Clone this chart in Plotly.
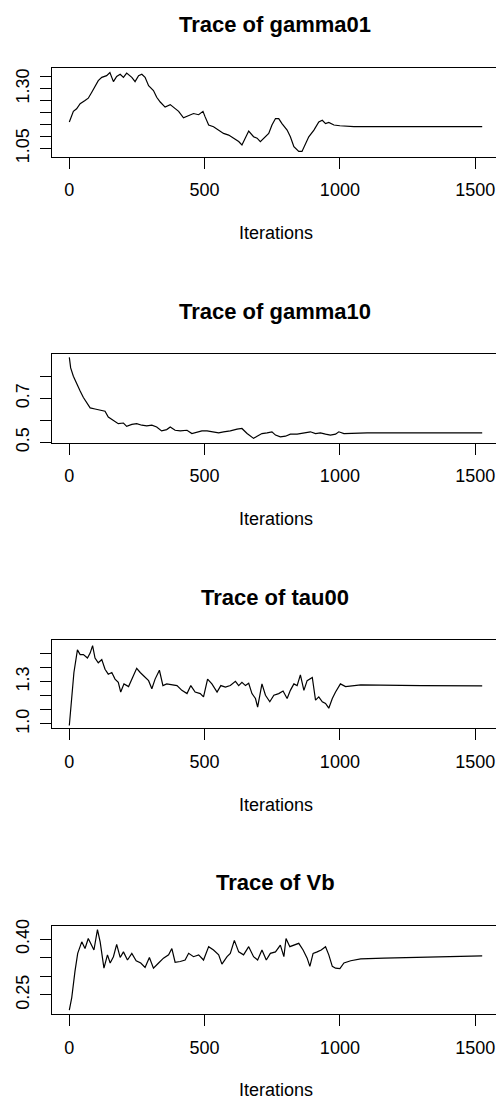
import plotly.graph_objects as go

W, H = 496, 1113

# ---- data ----
iter_gamma01 = [0, 15, 27, 40, 58, 70, 83, 95, 107, 120, 138, 150, 163, 175, 188, 200, 212, 231, 243, 256,
                268, 280, 293, 311, 323, 336, 354, 373, 385, 404, 422, 441, 459, 478, 494, 502, 515, 533, 552, 570,
                589, 607, 626, 638, 651, 663, 681, 694, 706, 718, 737, 749, 762, 774, 786, 805, 817, 830, 848, 860,
                873, 885, 904, 922, 935, 947, 959, 978, 1000, 1052, 1150, 1300, 1450, 1526]
val_gamma01 = [1.161, 1.205, 1.216, 1.237, 1.250, 1.260, 1.285, 1.312, 1.333, 1.347, 1.354, 1.367, 1.329, 1.351,
               1.360, 1.347, 1.365, 1.347, 1.329, 1.354, 1.360, 1.347, 1.312, 1.292, 1.264, 1.244, 1.223, 1.233,
               1.223, 1.205, 1.178, 1.189, 1.196, 1.191, 1.205, 1.182, 1.148, 1.141, 1.127, 1.113, 1.106, 1.093,
               1.079, 1.065, 1.099, 1.123, 1.099, 1.093, 1.079, 1.093, 1.113, 1.148, 1.175, 1.175, 1.154, 1.127,
               1.099, 1.058, 1.038, 1.038, 1.072, 1.099, 1.127, 1.161, 1.168, 1.154, 1.159, 1.148, 1.145, 1.141,
               1.141, 1.141, 1.141, 1.141]

iter_gamma10 = [0, 5, 15, 27, 40, 52, 64, 77, 95, 114, 132, 144, 163, 181, 200, 212, 231, 249, 268, 286,
                305, 323, 341, 360, 373, 391, 410, 435, 453, 472, 490, 509, 533, 552, 570, 595, 620, 638, 657, 669,
                681, 694, 712, 731, 749, 762, 780, 799, 817, 842, 867, 891, 910, 928, 947, 965, 984, 996, 1015, 1101,
                1300, 1526]
val_gamma10 = [0.887, 0.839, 0.801, 0.772, 0.734, 0.704, 0.682, 0.657, 0.652, 0.648, 0.642, 0.615, 0.600, 0.585,
               0.588, 0.573, 0.582, 0.585, 0.578, 0.575, 0.578, 0.570, 0.552, 0.558, 0.570, 0.555, 0.552, 0.555,
               0.540, 0.548, 0.552, 0.552, 0.548, 0.543, 0.548, 0.552, 0.560, 0.563, 0.540, 0.528, 0.518, 0.528,
               0.540, 0.543, 0.548, 0.533, 0.525, 0.528, 0.537, 0.537, 0.543, 0.548, 0.540, 0.543, 0.537, 0.533,
               0.537, 0.548, 0.540, 0.543, 0.543, 0.543]

iter_tau00 = [0, 9, 17, 30, 40, 52, 67, 77, 86, 95, 107, 120, 132, 144, 157, 169, 181, 190, 202, 219,
              231, 249, 262, 277, 293, 305, 317, 333, 346, 360, 379, 398, 416, 435, 449, 465, 484, 496, 511, 527,
              546, 560, 577, 595, 614, 626, 638, 651, 663, 675, 688, 696, 712, 725, 741, 756, 774, 790, 805, 817,
              830, 842, 854, 867, 879, 898, 910, 922, 935, 947, 959, 972, 984, 1002, 1021, 1077, 1300, 1526]
val_tau00 = [0.988, 1.168, 1.365, 1.526, 1.492, 1.492, 1.468, 1.503, 1.556, 1.468, 1.434, 1.457, 1.388, 1.353,
             1.365, 1.318, 1.295, 1.226, 1.284, 1.265, 1.318, 1.395, 1.365, 1.335, 1.307, 1.249, 1.318, 1.381,
             1.272, 1.284, 1.279, 1.272, 1.238, 1.215, 1.272, 1.226, 1.215, 1.192, 1.318, 1.284, 1.226, 1.272,
             1.261, 1.272, 1.302, 1.272, 1.295, 1.272, 1.288, 1.215, 1.180, 1.118, 1.284, 1.203, 1.157, 1.203,
             1.215, 1.233, 1.180, 1.238, 1.284, 1.272, 1.348, 1.238, 1.307, 1.330, 1.168, 1.192, 1.157, 1.145,
             1.111, 1.180, 1.226, 1.284, 1.265, 1.277, 1.272, 1.270]

iter_Vb = [0, 9, 21, 31, 46, 58, 70, 83, 91, 104, 114, 128, 141, 151, 163, 175, 188, 200, 215, 231,
           247, 264, 280, 296, 311, 330, 348, 367, 379, 391, 410, 428, 441, 459, 478, 496, 515, 533, 552, 564,
           583, 595, 610, 626, 644, 663, 681, 696, 712, 728, 743, 762, 780, 793, 801, 815, 830, 848, 864, 879,
           889, 901, 916, 931, 947, 959, 972, 984, 1000, 1015, 1040, 1077, 1163, 1286, 1526]
val_Vb = [0.209, 0.243, 0.314, 0.362, 0.393, 0.375, 0.402, 0.384, 0.371, 0.426, 0.393, 0.322, 0.358, 0.336,
          0.353, 0.386, 0.351, 0.366, 0.344, 0.362, 0.342, 0.336, 0.324, 0.351, 0.322, 0.336, 0.349, 0.358,
          0.375, 0.338, 0.340, 0.344, 0.362, 0.353, 0.358, 0.344, 0.380, 0.371, 0.358, 0.333, 0.353, 0.362,
          0.397, 0.366, 0.358, 0.380, 0.353, 0.344, 0.371, 0.344, 0.362, 0.366, 0.384, 0.353, 0.402, 0.380,
          0.384, 0.389, 0.371, 0.349, 0.327, 0.362, 0.366, 0.371, 0.380, 0.358, 0.327, 0.322, 0.321, 0.336,
          0.342, 0.347, 0.349, 0.351, 0.355]

titles = ["Trace of gamma01", "Trace of gamma10", "Trace of tau00", "Trace of Vb"]
x_label = "Iterations"
x_tick_vals = [0, 500, 1000, 1500]
x_tick_text = ["0", "500", "1000", "1500"]
y_tick_vals = [
    [1.05, 1.10, 1.15, 1.20, 1.25, 1.30, 1.35],
    [0.5, 0.6, 0.7, 0.8],
    [1.0, 1.1, 1.2, 1.3, 1.4, 1.5],
    [0.25, 0.30, 0.35, 0.40],
]
y_tick_text = [
    ["1.05", "", "", "", "", "1.30", ""],
    ["0.5", "", "0.7", ""],
    ["1.0", "", "", "1.3", "", ""],
    ["0.25", "", "", "0.40"],
]

series_x = [iter_gamma01, iter_gamma10, iter_tau00, iter_Vb]
series_y = [val_gamma01, val_gamma10, val_tau00, val_Vb]

# ---- layout (pixels) ----
y_ranges = [[1.0159, 1.3878], [0.4990, 0.9020], [0.9680, 1.5970], [0.1990, 0.4363]]
x_range = [-64, 1577]
panel_px = [(61.5, 152.0), (352.5, 442.3), (642.7, 732.5), (933.0, 1022.5)]
left_px = 52.0
FONT = "Liberation Sans, Arial, sans-serif"

fig = go.Figure()
annotations = []
layout = {}
for i in range(4):
    n = "" if i == 0 else str(i + 1)
    top, bot = panel_px[i]
    fig.add_trace(go.Scatter(
        x=series_x[i], y=series_y[i], mode="lines",
        line=dict(color="black", width=1.2),
        xaxis="x" + n, yaxis="y" + n, showlegend=False, hoverinfo="skip"))
    layout["xaxis" + n] = dict(
        domain=[left_px / W, 1.0], range=x_range, anchor="y" + n,
        showline=True, linecolor="black", linewidth=1.3, mirror=True,
        showgrid=False, zeroline=False,
        ticks="outside", ticklen=11, tickwidth=1.2, tickcolor="black",
        tickvals=x_tick_vals, ticktext=x_tick_text,
        tickfont=dict(family=FONT, size=18, color="black"),
        ticklabelstandoff=6,
    )
    layout["yaxis" + n] = dict(
        domain=[1 - bot / H, 1 - top / H], range=y_ranges[i], anchor="x" + n,
        showline=True, linecolor="black", linewidth=1.3,
        showgrid=False, zeroline=False,
        ticks="outside", ticklen=11, tickwidth=1.2, tickcolor="black",
        tickvals=y_tick_vals[i], ticktext=y_tick_text[i], tickangle=-90,
        tickfont=dict(family=FONT, size=18, color="black"),
        ticklabelstandoff=4,
    )
    annotations.append(dict(
        text="<b>" + titles[i] + "</b>", x=275 / W, y=1 - (top - 43.5) / H,
        xref="paper", yref="paper", xanchor="center", yanchor="middle",
        showarrow=False, font=dict(family=FONT, size=22, color="black")))
    annotations.append(dict(
        text=x_label, x=276 / W, y=1 - (bot + 77.4) / H,
        xref="paper", yref="paper", xanchor="center", yanchor="middle",
        showarrow=False, font=dict(family=FONT, size=18, color="black")))

fig.update_layout(
    width=W, height=H, margin=dict(l=0, r=0, t=0, b=0),
    paper_bgcolor="white", plot_bgcolor="white",
    annotations=annotations, **layout)

fig.write_html("out.html")
